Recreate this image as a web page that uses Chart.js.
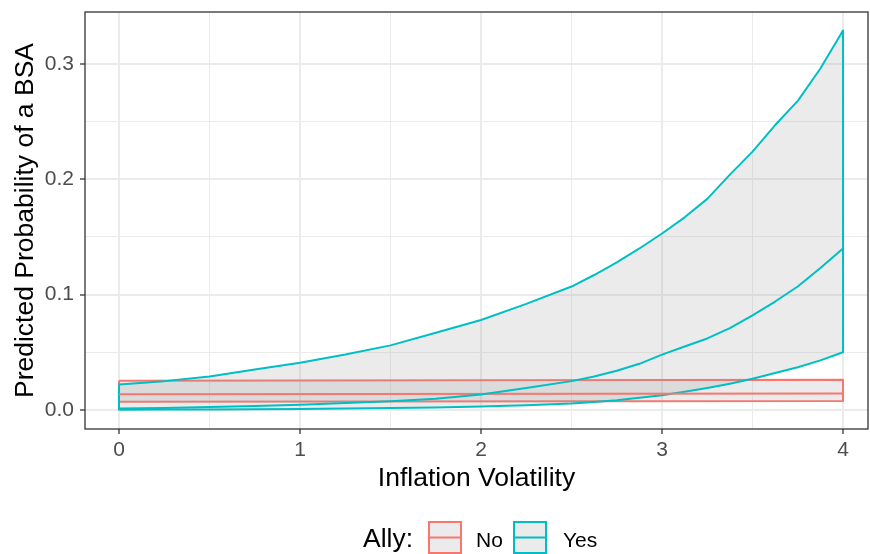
<!DOCTYPE html>
<html>
<head>
<meta charset="utf-8">
<script src="https://cdn.jsdelivr.net/npm/chart.js@4.4.1/dist/chart.umd.min.js"></script>
<style>
    html, body { margin: 0; padding: 0; background: #ffffff; }
</style>
</head>
<body>
<canvas id="grafica" width="870" height="554"></canvas>
<script>
// Volatilidad de la inflacion (eje x)
const volatility = [0, 0.25, 0.5, 0.75, 1, 1.25, 1.5, 1.75, 2, 2.25, 2.5, 2.625, 2.75, 2.875, 3, 3.125, 3.25, 3.375, 3.5, 3.625, 3.75, 3.875, 4];

// Ally = Yes
const yesUpper = [0.022, 0.025, 0.029, 0.035, 0.041, 0.048, 0.056, 0.067, 0.078, 0.092, 0.107, 0.117, 0.128, 0.140, 0.153, 0.167, 0.183, 0.204, 0.224, 0.247, 0.268, 0.296, 0.329];
const yesFit   = [0.0012, 0.0018, 0.0026, 0.0035, 0.0046, 0.006, 0.0076, 0.0098, 0.0135, 0.019, 0.025, 0.029, 0.034, 0.040, 0.048, 0.055, 0.062, 0.071, 0.082, 0.094, 0.107, 0.123, 0.140];
const yesLower = [0.0002, 0.0003, 0.0005, 0.0007, 0.0009, 0.0012, 0.0016, 0.0022, 0.003, 0.004, 0.0057, 0.007, 0.0085, 0.0105, 0.0128, 0.0158, 0.019, 0.0228, 0.027, 0.032, 0.037, 0.043, 0.050];

// Ally = No (constante)
const noX     = [0, 4];
const noUpper = [0.0254, 0.0262];
const noFit   = [0.0136, 0.0143];
const noLower = [0.0072, 0.0078];

// Ticks
const xBreaks = [0, 1, 2, 3, 4];
const xMinor  = [0.5, 1.5, 2.5, 3.5];
const yBreaks = [0, 0.1, 0.2, 0.3];
const yMinor  = [0.05, 0.15, 0.25];

const legendTitle = 'Ally:';
const legendLabels = ['No', 'Yes'];

const colNo = '#F8766D';
const colYes = '#00BFC4';
const fillGris = 'rgba(153, 153, 153, 0.2)';
const fuente = '"Liberation Sans", Arial, Helvetica, sans-serif';

// poligono cerrado: borde superior, luego inferior al reves
function ribbon(xs, up, lo) {
    const pts = xs.map((x, i) => ({ x: x, y: up[i] }));
    for (let i = xs.length - 1; i >= 0; i--) {
        pts.push({ x: xs[i], y: lo[i] });
    }
    pts.push({ x: xs[0], y: up[0] });
    return pts;
}
function linea(xs, ys) {
    return xs.map((x, i) => ({ x: x, y: ys[i] }));
}

const esMayorX = v => xBreaks.some(b => Math.abs(b - v) < 1e-9);
const esMayorY = v => yBreaks.some(b => Math.abs(b - v) < 1e-9);

// borde del panel y leyenda
const extras = {
    id: 'extras',
    afterDatasetsDraw(chart) {
        const { ctx, chartArea } = chart;
        ctx.save();
        ctx.strokeStyle = '#333333';
        ctx.lineWidth = 1.3;
        ctx.strokeRect(chartArea.left, chartArea.top, chartArea.right - chartArea.left, chartArea.bottom - chartArea.top);
        ctx.restore();
    },
    afterDraw(chart) {
        const ctx = chart.ctx;
        ctx.save();
        ctx.fillStyle = '#000000';
        ctx.textBaseline = 'alphabetic';
        ctx.font = '26.5px ' + fuente;
        ctx.fillText(legendTitle, 363, 546.5);

        const keys = [
            { x: 429, color: colNo, labelX: 476 },
            { x: 514, color: colYes, labelX: 563 }
        ];
        keys.forEach((k, i) => {
            ctx.fillStyle = '#ebebeb';
            ctx.fillRect(k.x, 522, 32, 31);
            ctx.strokeStyle = k.color;
            ctx.lineWidth = 2;
            ctx.strokeRect(k.x, 522, 32, 31);
            ctx.beginPath();
            ctx.moveTo(k.x, 537.5);
            ctx.lineTo(k.x + 32, 537.5);
            ctx.stroke();
            ctx.fillStyle = '#000000';
            ctx.font = '21px ' + fuente;
            ctx.fillText(legendLabels[i], k.labelX, 546.5);
        });
        ctx.restore();
    }
};

const ctx = document.getElementById('grafica');
const myChart = new Chart(ctx, {
    type: 'line',
    data: {
        datasets: [
            {
                label: 'Yes fit',
                data: linea(volatility, yesFit),
                borderColor: colYes,
                borderWidth: 2,
                pointRadius: 0,
                fill: false
            },
            {
                label: 'No fit',
                data: linea(noX, noFit),
                borderColor: colNo,
                borderWidth: 2,
                pointRadius: 0,
                fill: false
            },
            {
                label: 'Yes ribbon',
                data: ribbon(volatility, yesUpper, yesLower),
                borderColor: colYes,
                backgroundColor: fillGris,
                borderWidth: 2,
                pointRadius: 0,
                fill: 'shape'
            },
            {
                label: 'No ribbon',
                data: ribbon(noX, noUpper, noLower),
                borderColor: colNo,
                backgroundColor: fillGris,
                borderWidth: 2,
                pointRadius: 0,
                fill: 'shape'
            }
        ]
    },
    options: {
        responsive: false,
        animation: false,
        layout: {
            padding: { top: 12, right: 2, bottom: 55, left: 0 }
        },
        plugins: {
            legend: { display: false },
            tooltip: { enabled: false }
        },
        elements: {
            line: { tension: 0, borderJoinStyle: 'round' }
        },
        scales: {
            x: {
                type: 'linear',
                min: -0.188,
                max: 4.138,
                afterBuildTicks: axis => {
                    axis.ticks = xBreaks.concat(xMinor).sort((a, b) => a - b).map(v => ({ value: v }));
                },
                afterFit: axis => {
                    axis.height = 70;
                    axis.paddingLeft = 0;
                    axis.paddingRight = 0;
                },
                border: { display: false },
                grid: {
                    color: '#ebebeb',
                    lineWidth: c => esMayorX(c.tick.value) ? 2 : 1,
                    tickColor: c => esMayorX(c.tick.value) ? '#333333' : 'rgba(0,0,0,0)',
                    tickLength: 5,
                    tickWidth: 1.3
                },
                ticks: {
                    autoSkip: false,
                    maxRotation: 0,
                    padding: 4,
                    color: '#4d4d4d',
                    font: { family: fuente, size: 21 },
                    callback: v => esMayorX(v) ? String(v) : ''
                },
                title: {
                    display: true,
                    text: 'Inflation Volatility',
                    color: '#000000',
                    font: { family: fuente, size: 26.5 },
                    padding: { top: 0, bottom: 4 }
                }
            },
            y: {
                type: 'linear',
                min: -0.0165,
                max: 0.345,
                afterBuildTicks: axis => {
                    axis.ticks = yBreaks.concat(yMinor).sort((a, b) => a - b).map(v => ({ value: v }));
                },
                afterFit: axis => {
                    axis.width = 85;
                    axis.paddingTop = 0;
                    axis.paddingBottom = 0;
                },
                border: { display: false },
                grid: {
                    color: '#ebebeb',
                    lineWidth: c => esMayorY(c.tick.value) ? 2 : 1,
                    tickColor: c => esMayorY(c.tick.value) ? '#333333' : 'rgba(0,0,0,0)',
                    tickLength: 5,
                    tickWidth: 1.3
                },
                ticks: {
                    autoSkip: false,
                    padding: 6,
                    color: '#4d4d4d',
                    font: { family: fuente, size: 21 },
                    callback: v => esMayorY(v) ? v.toFixed(1) : ''
                },
                title: {
                    display: true,
                    text: 'Predicted Probability of a BSA',
                    color: '#000000',
                    font: { family: fuente, size: 26.5 },
                    padding: { top: 10, bottom: 0 }
                }
            }
        }
    },
    plugins: [extras]
});
</script>
</body>
</html>
